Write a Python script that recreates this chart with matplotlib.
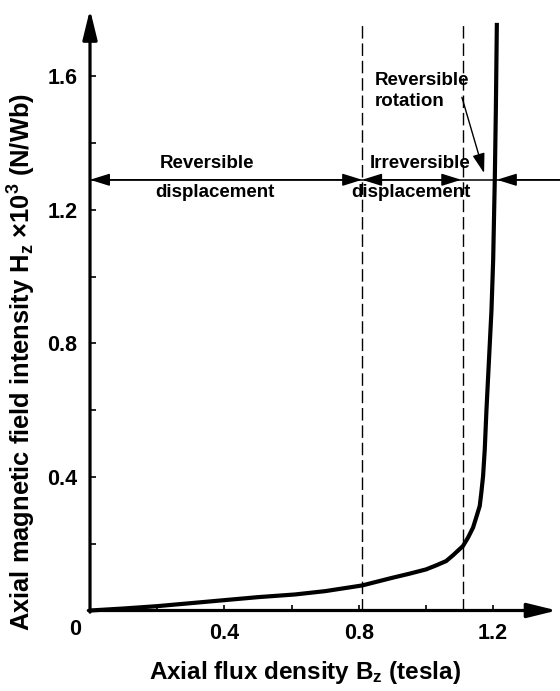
import numpy as np
import matplotlib
matplotlib.use("Agg")
import matplotlib.pyplot as plt

plt.rcParams['font.family'] = ['Liberation Sans', 'DejaVu Sans']
plt.rcParams['mathtext.fontset'] = 'custom'
plt.rcParams['mathtext.rm'] = 'Liberation Sans:bold'
plt.rcParams['mathtext.bf'] = 'Liberation Sans:bold'
plt.rcParams['mathtext.default'] = 'rm'

# magnetization curve: B (tesla), H (x10^3 N/Wb)
B = [0.0, 0.1, 0.2, 0.3, 0.4, 0.5, 0.61, 0.7, 0.81, 0.90, 0.95, 1.00,
     1.03, 1.06, 1.08, 1.11, 1.125, 1.14, 1.15, 1.16, 1.165, 1.17,
     1.175, 1.18, 1.185, 1.19, 1.195, 1.20, 1.205, 1.208, 1.211]
H = [0.0, 0.006, 0.013, 0.022, 0.031, 0.040, 0.048, 0.058, 0.075, 0.098,
     0.110, 0.123, 0.135, 0.148, 0.165, 0.193, 0.218, 0.248, 0.280,
     0.313, 0.355, 0.403, 0.483, 0.60, 0.70, 0.80, 0.90, 1.05, 1.30,
     1.50, 1.76]

# region borders and the level of the region arrows
borders = [0.81, 1.109]
arrow_level = 1.29
x_major = [0.4, 0.8, 1.2]
x_minor = [0.2, 0.6, 1.0]
y_major = [0.4, 0.8, 1.2, 1.6]
y_minor = [0.2, 0.6, 1.0, 1.4]

xmax, ymax = 1.39, 1.80

fig = plt.figure(figsize=(5.6, 6.91), dpi=100)
ax = fig.add_axes([90 / 560, 1 - 610.5 / 691, 467 / 560, 601 / 691])
ax.set_xlim(0, xmax)
ax.set_ylim(0, ymax)
for s in ax.spines.values():
    s.set_visible(False)

# axes drawn as arrows
ax_arrow = dict(arrowstyle='-|>,head_length=0.9,head_width=0.22', lw=2.3,
                color='black', mutation_scale=20, shrinkA=0, shrinkB=0)
ax.annotate('', xy=(xmax, 0), xytext=(-0.005, 0), arrowprops=ax_arrow,
            annotation_clip=False)
ax.annotate('', xy=(0, ymax), xytext=(0, -0.005), arrowprops=ax_arrow,
            annotation_clip=False)

ax.set_xticks(x_major)
ax.set_xticks(x_minor, minor=True)
ax.set_yticks(y_major)
ax.set_yticks(y_minor, minor=True)
ax.tick_params(which='both', direction='in', length=4, width=1.2)
ax.tick_params(axis='x', pad=9)
ax.tick_params(axis='y', pad=9)
for lab in ax.get_xticklabels() + ax.get_yticklabels():
    lab.set_fontsize(15.5)
    lab.set_fontweight('bold')
ax.text(-0.045, -0.058, '0', ha='center', va='center', fontsize=15.5,
        fontweight='bold')

# curve
ax.plot(B, H, color='black', lw=3, solid_capstyle='butt',
        solid_joinstyle='round', clip_on=False)

# dashed region borders
for b in borders:
    ax.plot([b, b], [0, 1.76], color='black', lw=1.0,
            linestyle=(0, (9, 3.5)))

# horizontal region arrows
ax.plot([0, 1.40], [arrow_level, arrow_level], color='black', lw=1.1,
        clip_on=False)
head = dict(arrowstyle='<|-|>,head_length=0.8,head_width=0.25', lw=1.1,
            color='black', mutation_scale=15, shrinkA=0, shrinkB=0)
ax.annotate('', xy=(0, arrow_level), xytext=(borders[0], arrow_level),
            arrowprops=head)
ax.annotate('', xy=(borders[0], arrow_level), xytext=(1.105, arrow_level),
            arrowprops=head)
one = dict(head, arrowstyle='-|>,head_length=0.8,head_width=0.25')
ax.annotate('', xy=(1.211, arrow_level), xytext=(1.40, arrow_level),
            arrowprops=one, annotation_clip=False)
ax.annotate('', xy=(1.173, 1.31), xytext=(1.107, 1.537),
            arrowprops=dict(one, lw=1.0))

# region labels
tk = dict(fontsize=13.5, fontweight='bold', va='baseline')
ax.text(0.348, 1.325, 'Reversible', ha='center', **tk)
ax.text(0.372, 1.238, 'displacement', ha='center', **tk)
ax.text(0.982, 1.325, 'Irreversible', ha='center', **tk)
ax.text(0.955, 1.238, 'displacement', ha='center', **tk)
ax.text(0.848, 1.573, 'Reversible', ha='left', **tk)
ax.text(0.848, 1.510, 'rotation', ha='left', **tk)

fig.text(305 / 560, (691 - 679) / 691,
         r'Axial flux density B$_\mathregular{z}$ (tesla)',
         ha='center', va='baseline', fontsize=17.5, fontweight='bold')
fig.text(31 / 560, 1 - 631 / 691,
         r'Axial magnetic field intensity H$_\mathregular{z}$ $\times$10$^\mathregular{3}$ (N/Wb)',
         ha='left', va='baseline', rotation=90, rotation_mode='anchor',
         fontsize=18.4, fontweight='bold')

fig.savefig('out.png', dpi=100)
